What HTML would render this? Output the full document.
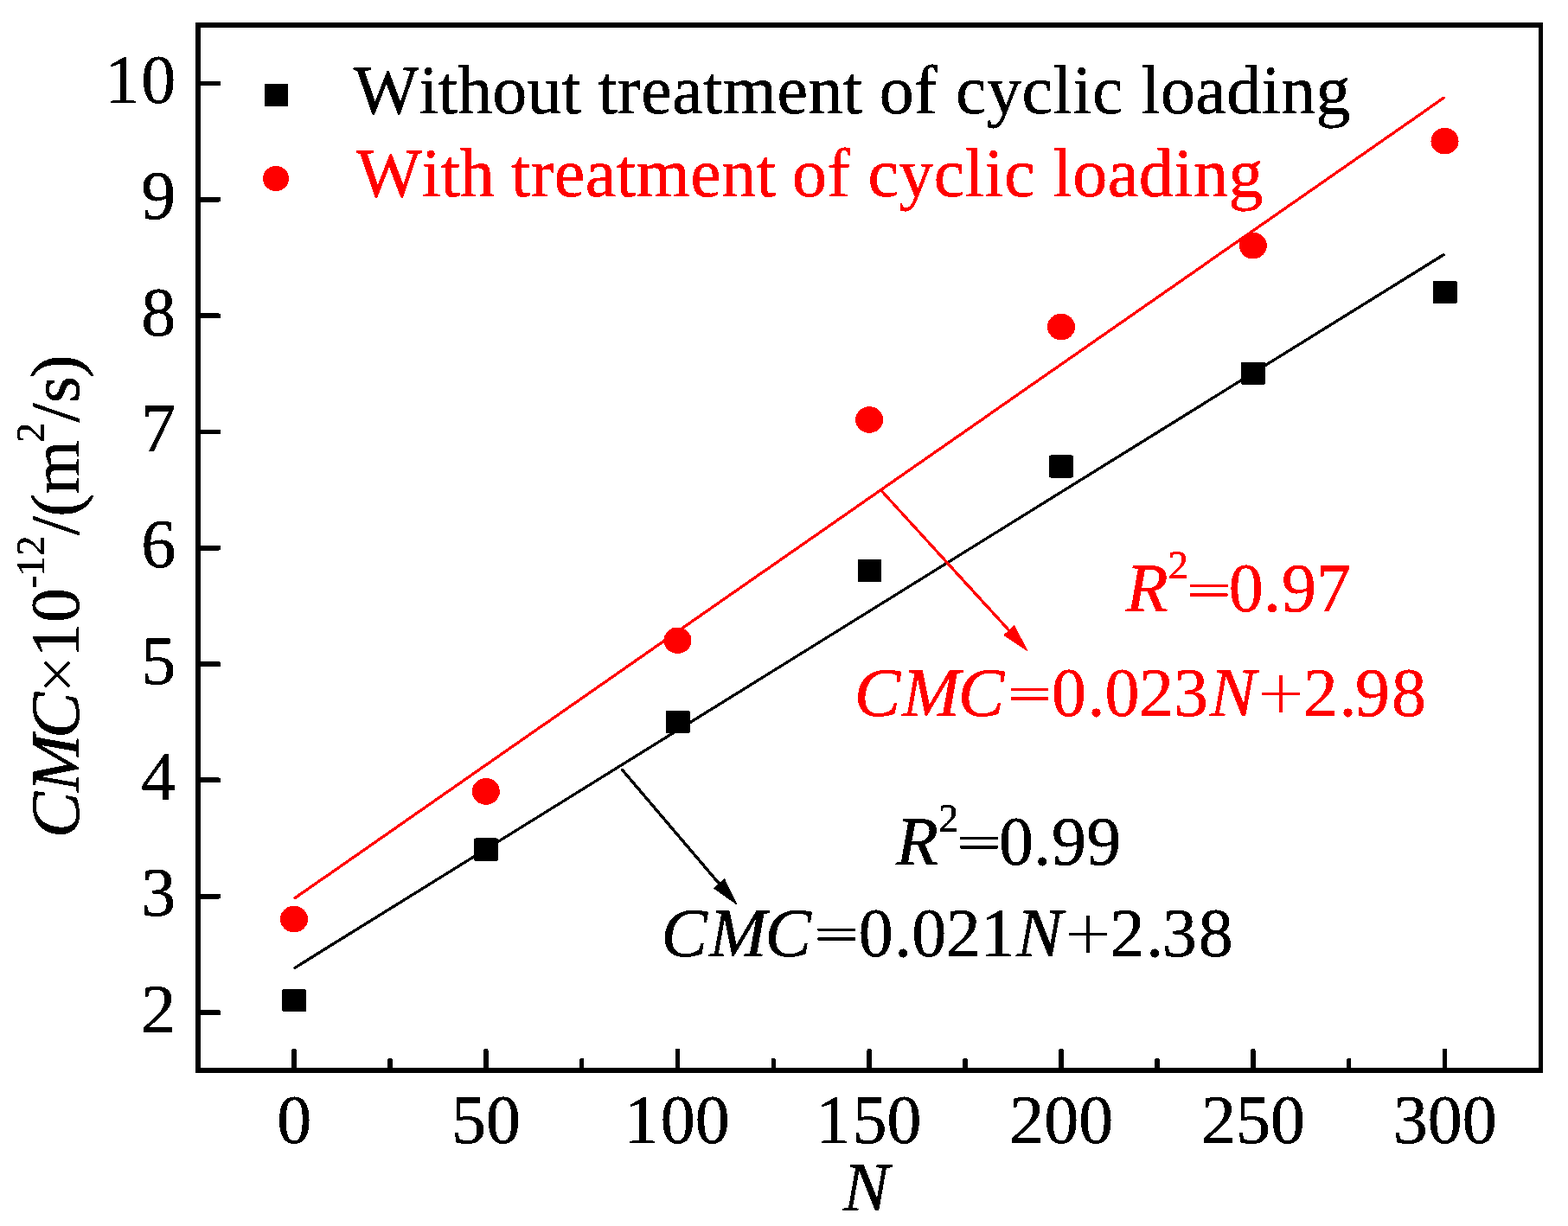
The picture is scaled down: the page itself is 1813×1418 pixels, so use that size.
<!DOCTYPE html>
<html lang="en"><head><meta charset="utf-8"><title>CMC versus N</title>
<style>
html,body{margin:0;padding:0;background:#fff;}
body{width:1813px;height:1418px;overflow:hidden;}
svg{display:block;}
text{font-family:"Liberation Serif", "DejaVu Serif", serif;font-size:80px;font-kerning:none;font-variant-ligatures:none;text-rendering:geometricPrecision;white-space:pre;stroke:#000;stroke-width:.5px;stroke-linejoin:round;}
.i{font-style:italic;}
.u{font-size:46.5px;}
.s{font-family:"DejaVu Sans Light", "DejaVu Sans", sans-serif;font-weight:200;font-size:68.8px;stroke:#000;stroke-width:.45px;}
.x{font-family:"DejaVu Sans Light", "DejaVu Sans", sans-serif;font-weight:200;font-size:58px;stroke:#000;stroke-width:.7px;}
.r{fill:#ff0000;stroke:#ff0000;}
.r .s{stroke:#ff0000;}
</style></head><body>
<svg width="1813" height="1418" viewBox="0 0 1813 1418">
<defs><filter id="hard" x="0" y="0" width="1813" height="1418" filterUnits="userSpaceOnUse" color-interpolation-filters="sRGB"><feComponentTransfer><feFuncA type="discrete" tableValues="0 1"/></feComponentTransfer></filter></defs>
<rect x="0" y="0" width="1813" height="1418" fill="#fff"/>
<g filter="url(#hard)">
<g fill="#000" shape-rendering="crispEdges">
<rect x="226" y="26" width="1558" height="6"/>
<rect x="226" y="1235" width="1558" height="6"/>
<rect x="226" y="26" width="6" height="1215"/>
<rect x="1779" y="26" width="5" height="1215"/>
</g>
<g fill="#000">
<rect x="230" y="1168.3" width="25.2" height="5.6" rx="1.6"/>
<rect x="230" y="1034.0" width="25.2" height="5.6" rx="1.6"/>
<rect x="230" y="899.6" width="25.2" height="5.6" rx="1.6"/>
<rect x="230" y="765.3" width="25.2" height="5.6" rx="1.6"/>
<rect x="230" y="631.0" width="25.2" height="5.6" rx="1.6"/>
<rect x="230" y="496.7" width="25.2" height="5.6" rx="1.6"/>
<rect x="230" y="362.4" width="25.2" height="5.6" rx="1.6"/>
<rect x="230" y="228.0" width="25.2" height="5.6" rx="1.6"/>
<rect x="230" y="93.7" width="25.2" height="5.6" rx="1.6"/>
<rect x="337.2" y="1213" width="5.5" height="24" rx="1.8"/>
<rect x="448.1" y="1224" width="5.5" height="13" rx="1.8"/>
<rect x="559.0" y="1213" width="5.5" height="24" rx="1.8"/>
<rect x="669.9" y="1224" width="5.5" height="13" rx="1.8"/>
<rect x="780.8" y="1213" width="5.5" height="24" rx="1.8"/>
<rect x="891.6" y="1224" width="5.5" height="13" rx="1.8"/>
<rect x="1002.5" y="1213" width="5.5" height="24" rx="1.8"/>
<rect x="1113.4" y="1224" width="5.5" height="13" rx="1.8"/>
<rect x="1224.2" y="1213" width="5.5" height="24" rx="1.8"/>
<rect x="1335.1" y="1224" width="5.5" height="13" rx="1.8"/>
<rect x="1446.0" y="1213" width="5.5" height="24" rx="1.8"/>
<rect x="1556.9" y="1224" width="5.5" height="13" rx="1.8"/>
<rect x="1667.8" y="1213" width="5.5" height="24" rx="1.8"/>
</g>
<g fill="none" stroke-width="3.3" stroke-linecap="round">
<line x1="341.0" y1="1119.3" x2="1669.3" y2="294.5" stroke="#000"/>
<line x1="341.0" y1="1038.7" x2="1669.3" y2="113.2" stroke="#ff0000"/>
</g>
<g fill="#000">
<rect x="326.4" y="1144.3" width="27.6" height="26" rx="1.2"/>
<rect x="548.1" y="969.6" width="27.6" height="26" rx="1.2"/>
<rect x="769.9" y="821.9" width="27.6" height="26" rx="1.2"/>
<rect x="991.6" y="647.3" width="27.6" height="26" rx="1.2"/>
<rect x="1213.4" y="526.4" width="27.6" height="26" rx="1.2"/>
<rect x="1435.2" y="418.9" width="27.6" height="26" rx="1.2"/>
<rect x="1656.9" y="324.9" width="27.6" height="26" rx="1.2"/>
<rect x="306" y="97" width="27.1" height="26"/>
</g>
<g fill="#ff0000">
<ellipse cx="340.0" cy="1063.1" rx="16" ry="15.3"/>
<ellipse cx="561.8" cy="915.4" rx="16" ry="15.3"/>
<ellipse cx="783.5" cy="740.8" rx="16" ry="15.3"/>
<ellipse cx="1005.2" cy="485.5" rx="16" ry="15.3"/>
<ellipse cx="1227.0" cy="378.1" rx="16" ry="15.3"/>
<ellipse cx="1448.8" cy="284.1" rx="16" ry="15.3"/>
<ellipse cx="1670.5" cy="163.2" rx="16" ry="15.3"/>
<ellipse cx="319" cy="206.5" rx="15.1" ry="14.6"/>
</g>
<line x1="1018.6" y1="567.0" x2="1167.5" y2="730.0" stroke="#ff0000" stroke-width="3.3"/>
<polygon points="1187.7,752.2 1161.0,734.6 1172.6,724.0" fill="#ff0000" stroke="#ff0000" stroke-width="1.2" stroke-linejoin="round"/>
<line x1="718.6" y1="889.4" x2="832.2" y2="1022.9" stroke="#000" stroke-width="3.3"/>
<polygon points="851.7,1045.7 825.6,1027.2 837.6,1017.0" fill="#000" stroke="#000" stroke-width="1.2" stroke-linejoin="round"/>
<text y="131.0"><tspan x="408.72" style="letter-spacing:0.15px">Without </tspan><tspan x="691.42" style="letter-spacing:0.45px">treatment </tspan><tspan x="1016.65" style="letter-spacing:0.30px">of </tspan><tspan x="1104.95" style="letter-spacing:0.50px">cyclic </tspan><tspan x="1319.40" style="letter-spacing:0.35px">loading</tspan></text>
<text class="r" y="227.0"><tspan x="411.92" style="letter-spacing:0.00px">With </tspan><tspan x="590.92" style="letter-spacing:0.50px">treatment </tspan><tspan x="916.05" style="letter-spacing:0.30px">of </tspan><tspan x="1003.45" style="letter-spacing:0.40px">cyclic </tspan><tspan x="1217.50" style="letter-spacing:0.50px">loading</tspan></text>
<text><tspan x="163.20" y="1193.6">2</tspan></text>
<text><tspan x="163.20" y="1059.3">3</tspan></text>
<text><tspan x="163.20" y="925.0">4</tspan></text>
<text><tspan x="163.20" y="790.6">5</tspan></text>
<text><tspan x="163.20" y="656.3">6</tspan></text>
<text><tspan x="163.20" y="522.0">7</tspan></text>
<text><tspan x="163.20" y="387.7">8</tspan></text>
<text><tspan x="163.20" y="253.3">9</tspan></text>
<text><tspan x="121.20 163.20" y="119.0">10</tspan></text>
<text><tspan x="320.20" y="1322.0">0</tspan></text>
<text><tspan x="521.95 561.95" y="1322.0">50</tspan></text>
<text><tspan x="721.70 763.70 803.70" y="1322.0">100</tspan></text>
<text><tspan x="943.45 985.45 1025.45" y="1322.0">150</tspan></text>
<text><tspan x="1167.20 1207.20 1247.20" y="1322.0">200</tspan></text>
<text><tspan x="1388.95 1428.95 1468.95" y="1322.0">250</tspan></text>
<text><tspan x="1610.70 1650.70 1690.70" y="1322.0">300</tspan></text>
<text class="i" x="974.8" y="1400.2">N</text>
<text transform="translate(91,0) rotate(-90)"><tspan class="i" x="-969.18 -915.99 -854.13" y="0.0">CMC</tspan><tspan class="x" x="-804.20" y="-6.8">×</tspan><tspan x="-760.60 -720.05" y="0.0">10</tspan><tspan class="u" x="-680.77 -666.50 -642.76" y="-40.0">-12</tspan><tspan x="-619.36 -597.79 -571.88" y="0.0">/(m</tspan><tspan class="u" x="-511.96" y="-40.0">2</tspan><tspan x="-488.51 -466.36 -436.90" y="0.0">/s)</tspan></text>
<text class="r"><tspan class="i" x="1301.80" y="707.4">R</tspan><tspan class="u" x="1350.70" y="669.1">2</tspan><tspan class="s" x="1368.98" y="703.5">=</tspan><tspan x="1420.70 1461.10 1481.90 1522.10" y="707.4">0.97</tspan></text>
<text class="r"><tspan class="i" x="987.70 1043.30 1107.80" y="827.9">CMC</tspan><tspan class="s" x="1161.83" y="824.0">=</tspan><tspan x="1216.05 1257.50 1277.45 1317.10 1357.00" y="827.9">0.023</tspan><tspan class="i" x="1398.65" y="827.9">N</tspan><tspan class="s" x="1452.48" y="824.0">+</tspan><tspan x="1506.75 1548.50 1567.00 1609.10" y="827.9">2.98</tspan></text>
<text><tspan class="i" x="1036.00" y="999.9">R</tspan><tspan class="u" x="1084.90" y="961.6">2</tspan><tspan class="s" x="1103.18" y="996.0">=</tspan><tspan x="1154.90 1195.30 1216.10 1256.30" y="999.9">0.99</tspan></text>
<text><tspan class="i" x="764.40 820.00 884.50" y="1105.9">CMC</tspan><tspan class="s" x="938.53" y="1102.0">=</tspan><tspan x="992.75 1034.20 1054.15 1093.80 1133.70" y="1105.9">0.021</tspan><tspan class="i" x="1175.35" y="1105.9">N</tspan><tspan class="s" x="1229.18" y="1102.0">+</tspan><tspan x="1283.45 1325.20 1343.70 1385.80" y="1105.9">2.38</tspan></text>
</g>
</svg>
</body></html>
